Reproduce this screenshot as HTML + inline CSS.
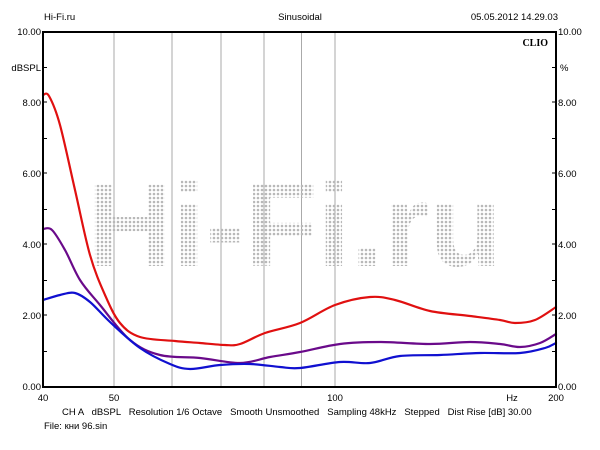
<!DOCTYPE html>
<html><head><meta charset="utf-8"><style>
body{margin:0;background:#fff;}
svg{display:block;font-family:"Liberation Sans",sans-serif;}
</style></head><body>
<svg width="600" height="450" viewBox="0 0 600 450">
<defs>
<pattern id="dots" width="4" height="4" patternUnits="userSpaceOnUse"><circle cx="2" cy="2" r="1.3" fill="#b8b8b8"/></pattern>
</defs>
<rect width="600" height="450" fill="#fff"/>
<text x="44" y="20" font-size="9.5">Hi-Fi.ru</text>
<text x="300" y="20" font-size="9.5" text-anchor="middle">Sinusoidal</text>
<text x="558" y="20" font-size="9.5" text-anchor="end">05.05.2012 14.29.03</text>
<g stroke="#aaa" stroke-width="1">
<line x1="114" y1="32" x2="114" y2="387"/><line x1="172" y1="32" x2="172" y2="387"/>
<line x1="221" y1="32" x2="221" y2="387"/><line x1="264" y1="32" x2="264" y2="387"/>
<line x1="301.5" y1="32" x2="301.5" y2="387"/><line x1="335" y1="32" x2="335" y2="387"/>
</g>
<text x="87" y="266" font-size="118" font-family="Liberation Sans" font-weight="bold" fill="url(#dots)" textLength="415" lengthAdjust="spacingAndGlyphs">Hi-Fi.ru</text>
<g stroke="#000" stroke-width="1">
<line x1="43" y1="67.5" x2="47" y2="67.5"/><line x1="43" y1="138.5" x2="47" y2="138.5"/><line x1="43" y1="209.5" x2="47" y2="209.5"/><line x1="43" y1="280.5" x2="47" y2="280.5"/><line x1="43" y1="351.5" x2="47" y2="351.5"/>
<line x1="43" y1="102" x2="47" y2="102"/><line x1="43" y1="173" x2="47" y2="173"/><line x1="43" y1="244" x2="47" y2="244"/><line x1="43" y1="315" x2="47" y2="315"/>
<line x1="552" y1="67.5" x2="556" y2="67.5"/><line x1="552" y1="138.5" x2="556" y2="138.5"/><line x1="552" y1="209.5" x2="556" y2="209.5"/><line x1="552" y1="280.5" x2="556" y2="280.5"/><line x1="552" y1="351.5" x2="556" y2="351.5"/>
<line x1="552" y1="102" x2="556" y2="102"/><line x1="552" y1="173" x2="556" y2="173"/><line x1="552" y1="244" x2="556" y2="244"/><line x1="552" y1="315" x2="556" y2="315"/>
</g>
<g fill="none" stroke-width="2.2" stroke-linejoin="round" stroke-linecap="round">
<path id="r" stroke="#e01010" data-p="43,95 49,96 60,125 75,190 90,255 105,295 120,323 140,337 175,341 200,343 225,345 240,344 265,333 300,323 335,305 370,297 395,300 430,311 470,316 500,320 515,323 535,320 556,307"/>
<path id="p" stroke="#6a0a8a" data-p="43,229 52,230 65,250 80,280 100,305 130,340 160,355 200,358 240,363 270,357 300,352 340,344 380,342 430,344 470,342 500,344 520,347 540,343 556,334"/>
<path id="b" stroke="#1010d0" data-p="43,300 60,295 75,293 90,302 110,322 140,348 170,364 190,369 220,365 250,364 280,367 300,368 340,362 370,363 400,356 440,355 480,353 520,353 545,348 556,343"/>
</g>
<rect x="43" y="32" width="513" height="355" fill="none" stroke="#000" stroke-width="2"/>
<text x="548" y="46" font-size="10" font-weight="bold" font-family="Liberation Serif" text-anchor="end">CLIO</text>
<g font-size="9.5" text-anchor="end">
<text x="41" y="35">10.00</text><text x="41" y="106">8.00</text><text x="41" y="177">6.00</text><text x="41" y="248">4.00</text><text x="41" y="319">2.00</text><text x="41" y="390">0.00</text>
<text x="41" y="71">dBSPL</text>
</g>
<g font-size="9.5">
<text x="558" y="35">10.00</text><text x="558" y="106">8.00</text><text x="558" y="177">6.00</text><text x="558" y="248">4.00</text><text x="558" y="319">2.00</text><text x="558" y="390">0.00</text>
<text x="560" y="71">%</text>
</g>
<g font-size="9.5" text-anchor="middle">
<text x="43" y="401">40</text><text x="114" y="401">50</text><text x="335" y="401">100</text><text x="512" y="401">Hz</text><text x="556" y="401">200</text>
</g>
<text x="62" y="415" font-size="9.5" xml:space="preserve">CH A   dBSPL   Resolution 1/6 Octave   Smooth Unsmoothed   Sampling 48kHz   Stepped   Dist Rise [dB] 30.00</text>
<text x="44" y="429" font-size="9.5">File: кни 96.sin</text>
</svg>
<script>
['r','p','b'].forEach(function(id){
var el=document.getElementById(id);
var pts=el.getAttribute('data-p').split(' ').map(function(s){return s.split(',').map(Number);});
var d='M'+pts[0][0]+','+pts[0][1];
for(var i=0;i<pts.length-1;i++){
var p0=pts[i-1]||pts[i],p1=pts[i],p2=pts[i+1],p3=pts[i+2]||p2;
var c1=[p1[0]+(p2[0]-p0[0])/6,p1[1]+(p2[1]-p0[1])/6];
var c2=[p2[0]-(p3[0]-p1[0])/6,p2[1]-(p3[1]-p1[1])/6];
d+=' C'+c1[0].toFixed(1)+','+c1[1].toFixed(1)+' '+c2[0].toFixed(1)+','+c2[1].toFixed(1)+' '+p2[0]+','+p2[1];
}
el.setAttribute('d',d);el.removeAttribute('data-p');
});
</script>
</body></html>
